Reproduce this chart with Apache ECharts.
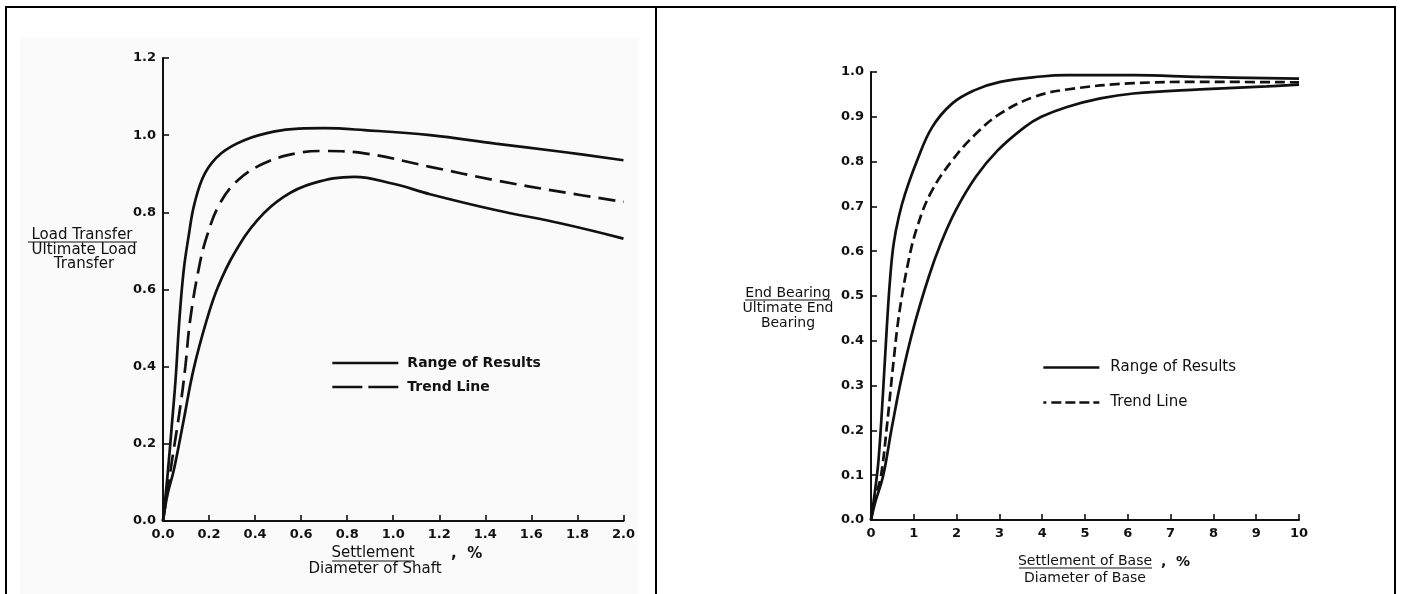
<!DOCTYPE html>
<html>
<head>
<meta charset="utf-8">
<script src="https://cdn.jsdelivr.net/npm/echarts@6/dist/echarts.min.js"></script>
<style>
html,body{margin:0;padding:0;background:#fff;width:1402px;height:594px;overflow:hidden;position:relative;}
.ln{position:absolute;background:#000;z-index:5;}
#bg1{position:absolute;left:20px;top:38px;width:618px;height:556px;background:#fafafa;}
#c1{position:absolute;left:0;top:0;width:638px;height:594px;overflow:hidden;}
#c2{position:absolute;left:657px;top:0;width:737px;height:594px;}
</style>
</head>
<body>
<div id="bg1"></div>
<div id="c1"></div>
<div id="c2"></div>
<div class="ln" style="left:5px;top:6px;width:1391px;height:2px;"></div>
<div class="ln" style="left:5px;top:6px;width:2px;height:588px;"></div>
<div class="ln" style="left:1394px;top:6px;width:2px;height:588px;"></div>
<div class="ln" style="left:655px;top:6px;width:2px;height:588px;"></div>
<script>
// ---- Left chart: load transfer vs settlement / diameter of shaft (%) ----
const leftHighX  = [0, 0.02, 0.04, 0.055, 0.071, 0.09, 0.111, 0.137, 0.182, 0.253, 0.353, 0.48, 0.59, 0.70, 0.875, 1.16, 1.444, 1.73, 2.0];
const leftHighY  = [0, 0.12, 0.26, 0.37, 0.52, 0.65, 0.737, 0.823, 0.901, 0.953, 0.987, 1.009, 1.017, 1.018, 1.013, 1.0, 0.978, 0.957, 0.935];
const leftTrendX = [0, 0.02, 0.04, 0.076, 0.097, 0.118, 0.154, 0.19, 0.247, 0.325, 0.439, 0.58, 0.70, 0.875, 1.16, 1.444, 1.73, 2.0];
const leftTrendY = [0, 0.08, 0.16, 0.30, 0.40, 0.521, 0.650, 0.737, 0.823, 0.883, 0.927, 0.953, 0.959, 0.953, 0.918, 0.883, 0.853, 0.827];
const leftLowX   = [0, 0.02, 0.047, 0.09, 0.132, 0.19, 0.239, 0.31, 0.41, 0.524, 0.65, 0.83, 1.0, 1.16, 1.444, 1.73, 2.0];
const leftLowY   = [0, 0.07, 0.132, 0.262, 0.391, 0.521, 0.607, 0.694, 0.780, 0.840, 0.875, 0.892, 0.874, 0.847, 0.806, 0.771, 0.732];

// ---- Right chart: end bearing vs settlement of base / diameter of base (%) ----
const rightHighX  = [0, 0.1, 0.176, 0.28, 0.37, 0.45, 0.53, 0.65, 0.8, 1.08, 1.43, 1.9, 2.41, 3.02, 3.98, 4.58, 6.13, 7.69, 10];
const rightHighY  = [0, 0.07, 0.134, 0.283, 0.431, 0.543, 0.617, 0.677, 0.729, 0.803, 0.877, 0.930, 0.959, 0.978, 0.990, 0.993, 0.993, 0.989, 0.985];
const rightTrendX = [0, 0.1, 0.23, 0.37, 0.53, 0.67, 0.88, 1.08, 1.39, 1.9, 2.45, 3.02, 3.8, 4.58, 6.13, 7.69, 10];
const rightTrendY = [0, 0.05, 0.097, 0.208, 0.357, 0.468, 0.580, 0.654, 0.729, 0.803, 0.862, 0.907, 0.944, 0.961, 0.975, 0.978, 0.977];
const rightLowX   = [0, 0.1, 0.28, 0.49, 0.72, 1.0, 1.35, 1.63, 1.98, 2.45, 2.96, 3.59, 3.98, 4.58, 5.36, 6.13, 7.69, 9.25, 10];
const rightLowY   = [0, 0.04, 0.097, 0.208, 0.320, 0.431, 0.543, 0.617, 0.691, 0.766, 0.825, 0.877, 0.900, 0.922, 0.941, 0.952, 0.961, 0.968, 0.972];

const legendNames = ['Range of Results', 'Trend Line'];
const leftYTitle  = ['Load Transfer', 'Ultimate Load', 'Transfer'];
const leftXTitle  = ['Settlement', 'Diameter of Shaft', ',  %'];
const rightYTitle = ['End Bearing', 'Ultimate End', 'Bearing'];
const rightXTitle = ['Settlement of Base', 'Diameter of Base', ',  %'];

function pairs(xs, ys) { return xs.map((x, i) => [x, ys[i]]); }

const INK = '#111';
const TICK_FONT = { color: INK, fontFamily: 'DejaVu Sans', fontWeight: 'bold', fontSize: 13 };
const HIDE_SYMBOL = { color: 'rgba(0,0,0,0)', borderWidth: 0, opacity: 0 };

function txt(text, x, y, font) {
  return { type: 'text', style: { text: text, x: x, y: y, font: font, fill: INK, align: 'center', verticalAlign: 'middle' } };
}
function uline(x1, x2, y) {
  return { type: 'line', shape: { x1: x1, y1: y, x2: x2, y2: y }, style: { stroke: INK, lineWidth: 1.2 } };
}
function axisCommon() {
  return {
    axisLine: { show: true, lineStyle: { color: INK, width: 2 } },
    axisTick: { show: true, inside: true, length: 6, lineStyle: { color: INK, width: 1.6 } },
    splitLine: { show: false }
  };
}
function lineSeries(name, data, dash) {
  return {
    type: 'line', name: name, data: data, symbol: 'none', showSymbol: false,
    smooth: 0.4, silent: true, color: INK,
    itemStyle: { color: INK },
    lineStyle: { color: INK, width: 2.7, type: dash || 'solid' }
  };
}

// ---------------- Left ----------------
const LF = '15px "DejaVu Sans"';
const c1 = echarts.init(document.getElementById('c1'), null, { renderer: 'canvas' });
c1.setOption({
  animation: false,
  backgroundColor: 'transparent',
  grid: { left: 163, top: 58, width: 467, height: 463, containLabel: false },
  xAxis: Object.assign({
    type: 'value', min: 0, max: 2, interval: 0.2,
    axisLabel: Object.assign({ margin: 7, formatter: v => v.toFixed(1) }, TICK_FONT)
  }, axisCommon()),
  yAxis: Object.assign({
    type: 'value', min: 0, max: 1.2, interval: 0.2,
    axisLabel: Object.assign({ margin: 7, formatter: v => v.toFixed(1) }, TICK_FONT)
  }, axisCommon()),
  legend: {
    orient: 'vertical', left: 331, top: 356, padding: 0, itemWidth: 66, itemHeight: 14, itemGap: 10,
    selectedMode: false,
    textStyle: { color: INK, fontFamily: 'DejaVu Sans', fontWeight: 'bold', fontSize: 14, padding: [0, 0, 0, 4] },
    data: [
      { name: legendNames[0], itemStyle: HIDE_SYMBOL, lineStyle: { type: 'solid', width: 2.7, color: INK } },
      { name: legendNames[1], itemStyle: HIDE_SYMBOL, lineStyle: { type: [30, 6], width: 2.7, color: INK } }
    ]
  },
  series: [
    lineSeries(legendNames[0], pairs(leftHighX, leftHighY)),
    lineSeries(legendNames[1], pairs(leftTrendX, leftTrendY), [17, 8]),
    lineSeries(legendNames[0], pairs(leftLowX, leftLowY))
  ],
  graphic: [
    txt(leftYTitle[0], 82, 235, LF), uline(28, 137, 242),
    txt(leftYTitle[1], 84, 250, LF),
    txt(leftYTitle[2], 84, 264, LF),
    txt(leftXTitle[0], 373, 553, LF), uline(332, 414, 561),
    txt(leftXTitle[1], 375, 569, LF),
    { type: 'text', style: { text: leftXTitle[2], x: 451, y: 554, font: 'bold 15px "DejaVu Sans"', fill: INK, align: 'left', verticalAlign: 'middle' } }
  ]
});

// ---------------- Right ----------------
const OX = 657;
const RF = '14px "DejaVu Sans"';
const c2 = echarts.init(document.getElementById('c2'), null, { renderer: 'canvas' });
c2.setOption({
  animation: false,
  backgroundColor: 'transparent',
  grid: { left: 871 - OX, top: 72, width: 428, height: 448, containLabel: false },
  xAxis: Object.assign({
    type: 'value', min: 0, max: 10, interval: 1,
    axisLabel: Object.assign({ margin: 7, formatter: v => String(v) }, TICK_FONT)
  }, axisCommon()),
  yAxis: Object.assign({
    type: 'value', min: 0, max: 1, interval: 0.1,
    axisLabel: Object.assign({ margin: 7, formatter: v => v.toFixed(1) }, TICK_FONT)
  }, axisCommon()),
  legend: {
    orient: 'vertical', left: 1042 - OX, top: 360, padding: 0, itemWidth: 56, itemHeight: 14, itemGap: 20,
    selectedMode: false,
    textStyle: { color: INK, fontFamily: 'DejaVu Sans', fontSize: 15, padding: [0, 0, 0, 6] },
    data: [
      { name: legendNames[0], itemStyle: HIDE_SYMBOL, lineStyle: { type: 'solid', width: 2.7, color: INK } },
      { name: legendNames[1], itemStyle: HIDE_SYMBOL, lineStyle: { type: [3, 5, 10, 4, 10, 4, 10, 4, 10, 30], width: 2.7, color: INK } }
    ]
  },
  series: [
    lineSeries(legendNames[0], pairs(rightHighX, rightHighY)),
    lineSeries(legendNames[1], pairs(rightTrendX, rightTrendY), [10, 5]),
    lineSeries(legendNames[0], pairs(rightLowX, rightLowY))
  ],
  graphic: [
    txt(rightYTitle[0], 788 - OX, 293, RF), uline(745 - OX, 831 - OX, 300),
    txt(rightYTitle[1], 788 - OX, 308, RF),
    txt(rightYTitle[2], 788 - OX, 323, RF),
    txt(rightXTitle[0], 1085 - OX, 561, RF), uline(1019 - OX, 1152 - OX, 568),
    txt(rightXTitle[1], 1085 - OX, 578, RF),
    { type: 'text', style: { text: rightXTitle[2], x: 1161 - OX, y: 562, font: 'bold 14px "DejaVu Sans"', fill: INK, align: 'left', verticalAlign: 'middle' } }
  ]
});
</script>
</body>
</html>
